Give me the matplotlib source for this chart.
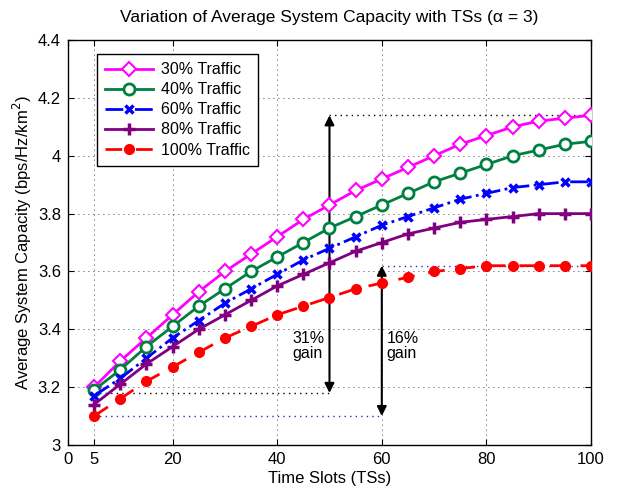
import matplotlib
matplotlib.use("Agg")
import matplotlib.pyplot as plt
import numpy as np

plt.rcParams['font.family'] = ['Liberation Sans', 'DejaVu Sans']

slots = [5, 10, 15, 20, 25, 30, 35, 40, 45, 50,
         55, 60, 65, 70, 75, 80, 85, 90, 95, 100]

traffic30 = [3.20, 3.29, 3.37, 3.45, 3.53, 3.60, 3.66, 3.72, 3.78, 3.83,
             3.88, 3.92, 3.96, 4.00, 4.04, 4.07, 4.10, 4.12, 4.13, 4.14]
traffic40 = [3.19, 3.26, 3.34, 3.41, 3.48, 3.54, 3.60, 3.65, 3.70, 3.75,
             3.79, 3.83, 3.87, 3.91, 3.94, 3.97, 4.00, 4.02, 4.04, 4.05]
traffic60 = [3.17, 3.23, 3.30, 3.37, 3.43, 3.49, 3.54, 3.59, 3.64, 3.68,
             3.72, 3.76, 3.79, 3.82, 3.85, 3.87, 3.89, 3.90, 3.91, 3.91]
traffic80 = [3.14, 3.21, 3.28, 3.34, 3.40, 3.45, 3.50, 3.55, 3.59, 3.63,
             3.67, 3.70, 3.73, 3.75, 3.77, 3.78, 3.79, 3.80, 3.80, 3.80]
traffic100 = [3.10, 3.16, 3.22, 3.27, 3.32, 3.37, 3.41, 3.45, 3.48, 3.51,
              3.54, 3.56, 3.58, 3.60, 3.61, 3.62, 3.62, 3.62, 3.62, 3.62]

labels = ["30% Traffic", "40% Traffic", "60% Traffic",
          "80% Traffic", "100% Traffic"]

xticks = [0, 5, 20, 40, 60, 80, 100]
yticks = [3, 3.2, 3.4, 3.6, 3.8, 4, 4.2, 4.4]
ytickLabels = ["3", "3.2", "3.4", "3.6", "3.8", "4", "4.2", "4.4"]

# gain annotations: (x position, low value, high value)
gain31 = (50, 3.18, 4.14)
gain16 = (60, 3.10, 3.62)

fig = plt.figure(figsize=(6.17, 4.92), dpi=100)
ax = fig.add_axes([0.110, 0.0955, 0.848, 0.823])

# Gridlines (MATLAB style, dotted)
for xv in xticks[1:-1]:
    ax.axvline(xv, color='k', linestyle=(0, (1, 5)), linewidth=0.6, zorder=0)
for yv in yticks[1:-1]:
    ax.axhline(yv, color='k', linestyle=(0, (1, 5)), linewidth=0.6, zorder=0)

# Series
ax.plot(slots, traffic30, '-', color='#ff00ff', lw=2, marker='D',
        markersize=7, markerfacecolor='white', markeredgecolor='#ff00ff',
        markeredgewidth=1.5, label=labels[0], zorder=5)
ax.plot(slots, traffic40, '-', color='#008040', lw=2, marker='o',
        markersize=8, markerfacecolor='white', markeredgecolor='#008040',
        markeredgewidth=2, label=labels[1], zorder=5)
ax.plot(slots, traffic60, '-.', color='#0000ff', lw=2, marker='x',
        markersize=6, markeredgewidth=2.5, label=labels[2], zorder=5)
ax.plot(slots, traffic80, '-', color='#800080', lw=2, marker='+',
        markersize=8, markeredgewidth=2.5, label=labels[3], zorder=5)
ax.plot(slots, traffic100, '--', color='#ff0000', lw=2, marker='o',
        markersize=7, markerfacecolor='#ff0000', markeredgecolor='#ff0000',
        dashes=(6, 5), label=labels[4], zorder=5)

# Reference lines for gains
ax.plot([gain31[0], 100], [gain31[2], gain31[2]], color='k',
        linestyle=(0, (1, 3)), lw=1)
ax.plot([5, gain31[0]], [gain31[1], gain31[1]], color='k',
        linestyle=(0, (1, 3)), lw=1)
ax.plot([gain16[0], 100], [gain16[2], gain16[2]], color='#3030c0',
        linestyle=(0, (1, 3)), lw=1)
ax.plot([5, gain16[0]], [gain16[1], gain16[1]], color='#3030c0',
        linestyle=(0, (1, 3)), lw=1)

for xa, lo, hi in [gain31, gain16]:
    ax.annotate('', xy=(xa, hi), xytext=(xa, lo),
                arrowprops=dict(arrowstyle='<|-|>', color='k', lw=1.5,
                                mutation_scale=14, shrinkA=0, shrinkB=0))

ax.text(43.0, 3.395, "31%\ngain", ha='left', va='top',
        fontsize=11.5, linespacing=1.05)
ax.text(gain16[0] + 0.9, 3.395, "16%\ngain", ha='left', va='top',
        fontsize=11.5, linespacing=1.05)

ax.set_xlim(0, 100)
ax.set_ylim(3, 4.4)
ax.set_xticks(xticks)
ax.set_yticks(yticks)
ax.set_yticklabels(ytickLabels)
ax.tick_params(direction='in', top=True, right=True, labelsize=12,
               length=4, width=0.8, pad=5)
for sp in ax.spines.values():
    sp.set_linewidth(1)

ax.set_title("Variation of Average System Capacity with TSs (α = 3)",
             fontsize=12.5, pad=13)
ax.set_xlabel("Time Slots (TSs)", fontsize=12, labelpad=3)
ax.set_ylabel("Average System Capacity (bps/Hz/km$^2$)", fontsize=12,
              labelpad=3)

leg = ax.legend(loc='upper left', bbox_to_anchor=(0.04, 0.985),
                fontsize=11.5, handlelength=3.0, borderpad=0.5,
                labelspacing=0.32, handletextpad=0.5, fancybox=False,
                framealpha=1, edgecolor='k')
leg.get_frame().set_linewidth(1)

fig.savefig("out.png", dpi=100)
